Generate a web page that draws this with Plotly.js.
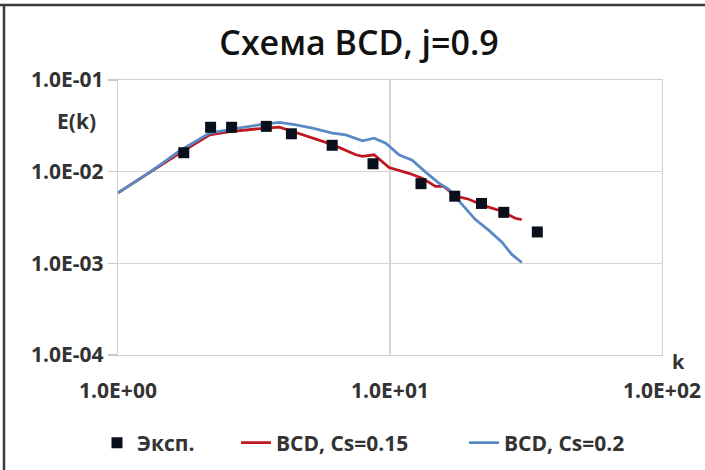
<!DOCTYPE html>
<html>
<head>
<meta charset="utf-8">
<script src="https://cdn.plot.ly/plotly-3.0.1.min.js"></script>
<style>
html,body{margin:0;padding:0;background:#fff;}
#chart{width:705px;height:470px;}
</style>
</head>
<body>
<div id="chart"></div>
<script>
// Experimental points
var expK = [1.745, 2.19, 2.616, 3.51, 4.34, 6.13, 8.66, 13.0, 17.3, 21.7, 26.2, 34.8];
var expE = [0.0161, 0.0305, 0.0305, 0.0312, 0.0259, 0.0194, 0.0122, 0.0074, 0.0054, 0.0045, 0.0036, 0.0022];

// BCD, Cs=0.15
var redK = [1.0, 1.31, 1.687, 2.173, 2.57, 3.505, 3.92, 4.39, 5.19, 6.15, 7.49, 7.92, 8.74, 9.92, 11.74, 13.13, 14.7, 15.77, 17.41, 19.47, 22.41, 25.79, 28.87, 30.5];
var redE = [0.00587, 0.0099, 0.0160, 0.0252, 0.0274, 0.0299, 0.0306, 0.0274, 0.0232, 0.0197, 0.0153, 0.0147, 0.0153, 0.0111, 0.0096, 0.0085, 0.0069, 0.0069, 0.0054, 0.0050, 0.0042, 0.0037, 0.0031, 0.0030];

// BCD, Cs=0.2
var blueK = [1.0, 1.31, 1.687, 2.173, 2.80, 3.505, 3.92, 4.51, 5.19, 6.15, 6.88, 7.92, 8.74, 9.65, 10.79, 12.07, 13.52, 15.12, 16.45, 18.4, 20.6, 23.05, 25.79, 28.05, 30.5];
var blueE = [0.00587, 0.0099, 0.0169, 0.0264, 0.0300, 0.0333, 0.0344, 0.0324, 0.0299, 0.0264, 0.0252, 0.0217, 0.0232, 0.0205, 0.0153, 0.0133, 0.0099, 0.0075, 0.0064, 0.0044, 0.0030, 0.0023, 0.0017, 0.00125, 0.00102];

var xTickVals = [1, 10, 100];
var xTickText = ["1.0E+00", "1.0E+01", "1.0E+02"];
var yTickVals = [0.0001, 0.001, 0.01, 0.1];
var yTickText = ["1.0E-04", "1.0E-03", "1.0E-02", "1.0E-01"];

var FONT = "Open Sans, Noto Sans, sans-serif";
var tickFont = {family: FONT, size: 21, color: "#333333", weight: "bold"};
var legFont = {family: FONT, size: 21, color: "#333333", weight: "bold"};

var traces = [
  {x: redK, y: redE, mode: "lines", name: "BCD, Cs=0.15",
   line: {color: "#C0161E", width: 2.8}, legend: "legend2"},
  {x: blueK, y: blueE, mode: "lines", name: "BCD, Cs=0.2",
   line: {color: "#5A8AC6", width: 2.8}, legend: "legend3"},
  {x: expK, y: expE, mode: "markers", name: "Эксп.",
   marker: {symbol: "square", size: 11, color: "#0A0F1E"}, legend: "legend"}
];

function leg(xpx) {
  return {orientation: "h", xref: "container", x: xpx / 705, xanchor: "left",
          yref: "container", y: 1 - 443 / 470, yanchor: "middle", font: legFont,
          bgcolor: "rgba(0,0,0,0)", itemclick: false};
}

var layout = {
  width: 705, height: 470,
  margin: {l: 118, r: 43, t: 80, b: 115},
  paper_bgcolor: "#ffffff", plot_bgcolor: "#ffffff",
  showlegend: true,
  title: {text: "Схема BCD, j=0.9", x: 359 / 705, xref: "container", xanchor: "center",
          y: 1 - 43 / 470, yref: "container", yanchor: "middle",
          font: {family: FONT, size: 34, color: "#111111", weight: 600}},
  xaxis: {type: "log", range: [0, 2], tickvals: xTickVals, ticktext: xTickText,
          showgrid: true, gridcolor: "#D4D4D4", gridwidth: 1.3,
          showline: true, mirror: true, linecolor: "#D0D0D0", linewidth: 1.3,
          ticks: "", ticklabelstandoff: 16, tickfont: tickFont, zeroline: false, fixedrange: true},
  yaxis: {type: "log", range: [-4, -1], tickvals: yTickVals, ticktext: yTickText,
          showgrid: true, gridcolor: "#D4D4D4", gridwidth: 1.3,
          showline: true, mirror: true, linecolor: "#D0D0D0", linewidth: 1.3,
          ticks: "outside", ticklen: 9, tickcolor: "#C8C8C8", tickwidth: 1.3,
          tickfont: tickFont, zeroline: false, fixedrange: true},
  legend: leg(97),
  legend2: leg(236),
  legend3: leg(464),
  annotations: [
    {text: "E(k)", xref: "paper", yref: "paper", x: (98 - 118) / 544, y: (355 - 121) / 275,
     xanchor: "right", yanchor: "middle", showarrow: false, font: tickFont},
    {text: "k", xref: "paper", yref: "paper", x: (678 - 118) / 544, y: (355 - 361) / 275,
     xanchor: "center", yanchor: "middle", showarrow: false,
     font: {family: FONT, size: 20, color: "#333333", weight: "bold"}}
  ],
  shapes: [
    {type: "line", xref: "paper", yref: "paper", x0: -118 / 544, x1: (705 - 118) / 544,
     y0: (355 - 5) / 275, y1: (355 - 5) / 275, line: {color: "#3A3A3A", width: 2.5}},
    {type: "line", xref: "paper", yref: "paper", x0: (4 - 118) / 544, x1: (4 - 118) / 544,
     y0: (355 - 4) / 275, y1: -115 / 275, line: {color: "#3A3A3A", width: 2.5}}
  ]
};

Plotly.newPlot("chart", traces, layout, {displayModeBar: false, staticPlot: true});
</script>
</body>
</html>
